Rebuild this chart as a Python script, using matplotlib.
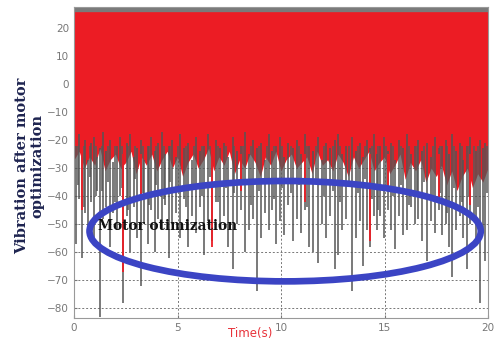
import numpy as np
import matplotlib.pyplot as plt
from matplotlib.patches import Ellipse

# red signal (after optimization): lower envelope every 0.25 s
red_t = np.arange(0, 20.01, 0.25)
red_lo = [-27, -24, -30, -26, -29, -23, -31, -27, -25, -30, -28, -24, -32, -26,
          -29, -25, -31, -27, -24, -30, -26, -33, -28, -25, -30, -27, -23, -31,
          -26, -29, -24, -32, -27, -30, -25, -28, -33, -26, -29, -24, -31, -27,
          -25, -30, -28, -26, -32, -24, -29, -27, -31, -25, -28, -33, -26, -30,
          -27, -24, -31, -28, -26, -32, -29, -25, -34, -28, -31, -27, -35, -30,
          -33, -29, -36, -31, -38, -33, -30, -37, -32, -35, -30]
red_hi = 25.8

# red spikes reaching below the envelope
red_spike_t = [0.39, 2.37, 3.24, 6.67, 8.07, 11.16, 14.30, 15.17, 17.63, 19.13]
red_spike_lo = [-45, -67, -40, -58, -38, -42, -56, -38, -41, -43]

# grey signal (before optimization): long downward spikes
gray_t = [0.10, 0.24, 0.39, 0.53, 0.68, 0.82, 0.97, 1.11, 1.26, 1.40, 1.55, 1.74,
          1.88, 2.08, 2.22, 2.37, 2.56, 2.71, 2.90, 3.04, 3.24, 3.38, 3.57, 3.72,
          3.91, 4.06, 4.25, 4.40, 4.59, 4.73, 4.93, 5.12, 5.31, 5.51, 5.70, 5.89,
          6.09, 6.28, 6.47, 6.67, 6.86, 7.05, 7.25, 7.44, 7.68, 7.87, 8.07, 8.26,
          8.45, 8.65, 8.84, 9.03, 9.23, 9.42, 9.57, 9.76, 9.95, 10.14, 10.34, 10.58,
          10.77, 10.97, 11.16, 11.35, 11.55, 11.79, 11.98, 12.17, 12.37, 12.61, 12.75,
          12.95, 13.14, 13.43, 13.62, 13.82, 13.96, 14.15, 14.30, 14.49, 14.64, 14.78,
          14.98, 15.17, 15.31, 15.51, 15.70, 15.89, 16.09, 16.28, 16.47, 16.62, 16.81,
          17.05, 17.25, 17.44, 17.63, 17.78, 17.97, 18.12, 18.26, 18.45, 18.65, 18.79,
          18.99, 19.13, 19.42, 19.61, 19.76, 19.86]
gray_lo = [-57, -41, -62, -46, -51, -42, -55, -38, -83, -48, -44, -58,
           -46, -52, -40, -78, -47, -60, -44, -55, -72, -50, -57, -45,
           -60, -48, -52, -43, -62, -50, -46, -55, -41, -58, -47, -53,
           -44, -61, -49, -56, -42, -52, -47, -58, -66, -50, -45, -60,
           -52, -48, -74, -55, -46, -52, -45, -57, -49, -54, -43, -56,
           -48, -53, -45, -58, -60, -64, -50, -55, -47, -66, -61,
           -52, -48, -74, -55, -49, -65, -52, -58, -47, -52, -47,
           -55, -45, -52, -59, -47, -54, -52, -44, -50, -48, -56,
           -63, -49, -53, -45, -54, -50, -58, -69, -52, -47, -55,
           -66, -50, -57, -78, -52, -63]
gray_hi = [-22, -18, -25, -20, -27, -21, -19, -26, -23, -17, -24, -20,
           -28, -22, -19, -25, -21, -18, -26, -23, -20, -27, -22, -19,
           -24, -21, -17, -25, -22, -20, -26, -18, -23, -21, -27, -19,
           -24, -22, -18, -25, -20, -23, -21, -26, -19, -24, -22, -17,
           -25, -20, -23, -21, -27, -18, -24, -22, -19, -26, -21, -23,
           -20, -25, -18, -22, -24, -19, -27, -21, -23, -20, -18,
           -25, -22, -19, -24, -21, -26, -20, -23, -18, -25, -22,
           -19, -24, -21, -27, -20, -23, -18, -25, -22, -20, -24,
           -21, -26, -19, -23, -22, -20, -25, -18, -24, -21, -27,
           -22, -19, -24, -20, -23, -21]

# grey signal: shorter spikes between the long ones
gray2_t = [0.17, 0.46, 0.75, 1.04, 1.33, 1.64, 1.98, 2.30, 2.63, 2.97, 3.31, 3.64,
           3.98, 4.33, 4.66, 5.02, 5.41, 5.80, 6.18, 6.57, 6.95, 7.34, 7.75, 8.16,
           8.55, 8.93, 9.32, 9.66, 10.05, 10.46, 10.87, 11.25, 11.67, 12.07, 12.49,
           12.85, 13.28, 13.72, 14.05, 14.40, 14.71, 15.07, 15.41, 15.80, 16.18,
           16.55, 16.93, 17.35, 17.70, 18.04, 18.36, 18.72, 19.06, 19.30, 19.52, 19.94]
gray2_lo = [-36, -44, -33, -40, -38, -35, -42, -37, -45, -34, -39, -43,
            -36, -41, -35, -38, -44, -36, -40, -33, -42, -37, -39, -35,
            -43, -38, -34, -41, -37, -39, -36, -44, -35, -40, -38,
            -42, -36, -39, -34, -41, -45, -37, -40, -36, -43,
            -38, -35, -41, -39, -46, -37, -42, -40, -48, -44, -39]

fig = plt.figure(figsize=(5, 3.45), dpi=100)
ax = fig.add_axes([0.148, 0.078, 0.828, 0.902])

# ragged dark top edge
ax.fill_between([0, 20], 25.0, 27.0, color='#7a7a7a', lw=0, zorder=1)
ax.fill_between(red_t, red_lo, red_hi, color='#ec1c24', lw=0, zorder=2)
ax.vlines(gray2_t, gray2_lo, -22, color='#5a5a5a', lw=1.3, alpha=0.85, zorder=3)
ax.vlines(gray_t, gray_lo, gray_hi, color='#555555', lw=1.3, alpha=0.85, zorder=3)
ax.vlines(red_spike_t, red_spike_lo, -25, color='#ec1c24', lw=1.3, zorder=4)

ax.add_patch(Ellipse((10.2, -52.5), 18.9, 35.8, fill=False,
                     ec='#3b44c4', lw=4.8, zorder=5))
ax.text(1.15, -50.8, 'Motor otimization', family='DejaVu Serif',
        fontweight='bold', fontsize=9.8, color='#111111', va='center', zorder=6)

ax.set_xlim(0, 20)
ax.set_ylim(-83.5, 27.5)
ax.set_xticks([0, 5, 10, 15, 20])
ax.set_yticks(range(-80, 21, 10))
ax.grid(True, color='#777777', ls=(0, (2, 2)), lw=0.7)
ax.set_axisbelow(True)
ax.tick_params(labelsize=7.5, colors='#777777', length=2, direction='in')
for s in ax.spines.values():
    s.set_color('#999999')

ax.set_xlabel('Time(s)', color='#e8333a', fontsize=8.5)
ax.xaxis.set_label_coords(0.425, -0.028)
fig.text(0.06, 0.52, 'Vibration after motor\noptimization', rotation=90,
         ha='center', va='center', family='DejaVu Serif', fontweight='bold',
         fontsize=10.5, color='#1e2450', linespacing=1.1)

fig.savefig('out.png')
